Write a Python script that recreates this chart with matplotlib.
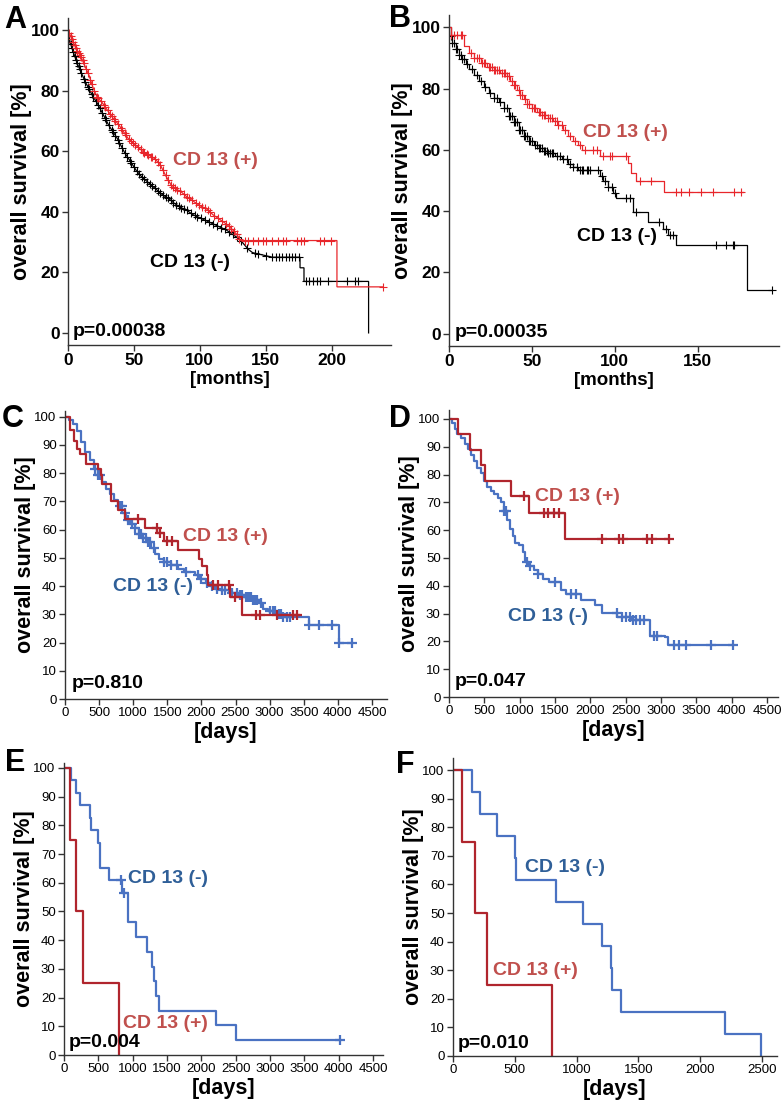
import matplotlib
matplotlib.use("Agg")
import matplotlib.pyplot as plt
import numpy as np

plt.rcParams["font.family"] = ["Liberation Sans", "DejaVu Sans"]

# ---------------- panel A (months), curves drawn as polylines, many events
a_pos_t = [0, 2, 4, 6, 8, 10, 13, 16, 19, 22, 26, 30, 34, 38, 42, 46, 50, 54, 58, 62, 66, 70, 74, 78, 82, 86, 90, 95,
           100, 105, 110, 115, 120, 125, 128, 131, 204, 204, 239]
a_pos_s = [100, 98, 96, 94, 92.5, 91, 88, 85, 81, 78, 76, 73.5, 71, 69, 66.5, 64, 62.5, 61, 59.5, 58.5, 57.5, 55.5, 52,
           49, 47.5, 46.5, 45, 43.5, 42, 41, 39, 37.5, 36, 34, 32.5, 30.5, 30.5, 15.2, 15.2]
a_pos_cens = [1, 2, 3, 4, 5, 6, 7, 8, 9, 10, 11, 12, 14, 15, 17, 18, 20, 22, 23, 25, 27, 28, 30, 32, 33, 35, 36, 38, 40,
              41, 43, 44, 46, 48, 49, 51, 53, 55, 57, 58, 60, 61, 63, 64, 66, 68, 70, 72, 74, 76, 78, 80, 81, 83, 85, 88,
              90, 92, 94, 97, 99, 102, 104, 106, 108, 111, 114, 117, 120, 122, 124, 126, 128, 130, 134, 136.5, 140, 144,
              148, 150, 155, 159, 163, 165.5, 174, 176.5, 179, 191.5, 194, 199.5, 239]
a_neg_t = [0, 1, 3, 5, 7, 9, 11, 13, 16, 19, 22, 25, 28, 31, 34, 37, 40, 43, 46, 49, 52, 56, 60, 64, 68, 72, 76, 80, 85,
           90, 95, 100, 105, 110, 115, 120, 125, 130, 134, 137, 140, 145, 150, 155, 176, 176, 179, 179, 228, 228]
a_neg_s = [100, 97, 94, 91.5, 89, 87, 85, 83, 80.5, 78, 76, 73.5, 71, 68.5, 66.5, 64.5, 62, 59.5, 57.5, 55.5, 53.5, 51.5,
           50, 48.5, 47, 45.5, 44.5, 43, 41.5, 40.5, 39, 38, 37, 36, 35, 34, 32.5, 31, 29, 27.5, 26.5, 26, 25.5, 25, 25,
           21.5, 21.5, 17, 17, 0]
a_neg_cens = [1, 2, 3, 4, 5, 6, 7, 8, 9, 10, 12, 13, 15, 16, 18, 19, 21, 23, 24, 26, 28, 29, 31, 33, 34, 36, 38, 39, 41,
              43, 45, 47, 48, 50, 52, 54, 56, 58, 60, 62, 64, 66, 68, 70, 72, 74, 76, 78, 80, 82, 84, 86, 88, 90, 93, 96,
              98, 101, 104, 107, 110, 113, 116, 119, 122, 125, 128, 131, 136, 141.5, 144, 150, 155, 157.5, 160, 162.5,
              165, 167.5, 170, 172, 175, 180.5, 183, 186, 188.5, 191, 197, 212, 217.7, 220]

# ---------------- panel B (months), step curves
b_pos_t = [0, 1, 9, 12, 15, 19, 23, 27, 31, 35, 37, 39, 41, 43, 45, 47, 50, 53, 56, 60, 63, 66, 69, 72, 75, 78, 80, 91,
           108, 110, 113, 129.5, 177]
b_pos_s = [100, 97.4, 94, 91.5, 90, 88.5, 87, 86, 85, 84, 82.5, 81, 79.5, 78, 76.5, 75, 73.5, 72.5, 71.5, 70.5, 69.5,
           68, 66.5, 64.5, 63, 61.5, 59.8, 58.1, 55.7, 52.5, 50, 46.1, 46.1]
b_pos_cens = [1.5, 3, 5, 7, 8, 13, 15, 17, 18, 20, 21, 22, 24, 25, 26, 27, 28, 29, 30, 32, 33, 34, 35, 36, 38, 39, 40,
              42, 43, 44, 46, 47, 48, 50, 51, 52, 54, 55, 56, 57, 58, 60, 61, 62, 64, 65, 66, 68, 70, 73, 76, 79, 82,
              87, 89, 93, 97, 98, 107, 115, 122, 137, 140, 144.6, 152, 159, 172, 176]
b_neg_t = [0, 1, 2, 4, 6, 8, 10, 12, 15, 18, 21, 24, 27, 30, 33, 36, 39, 42, 45, 48, 51, 54, 57, 60, 64, 68, 72, 75, 78,
           91, 93, 96, 99, 101, 111, 120, 129, 132, 137, 180, 194.5]
b_neg_s = [100, 97, 95, 93, 91, 89.5, 88, 86.5, 84.5, 82.5, 80.5, 78.5, 77, 75.5, 73.5, 71, 69, 66.5, 64.5, 63, 61.5,
           60.5, 59.5, 59, 58, 57, 55.5, 54.5, 53.5, 51.5, 50, 48, 46, 44.4, 39.8, 36.6, 34.2, 32.2, 28.8, 14.3, 14.3]
b_neg_cens = [1, 2, 3, 4, 5, 6, 7, 8, 9, 11, 14, 17, 19, 22, 25, 27, 29, 31, 33, 35, 36, 37, 38, 39, 40, 41, 42, 43,
              44, 45, 46, 47, 48, 49, 50, 52, 53, 54, 55, 56, 57, 58, 59, 60, 61, 62, 63, 65, 67, 69, 71, 73, 75, 77,
              79, 80, 81, 83, 84, 85, 90, 92, 94, 96, 98, 100, 107, 109, 112.7, 126.5, 131, 133, 135, 161, 167, 171,
              172, 194.5]

# ---------------- panel C (days)
c_pos_t = [0, 73, 132, 181, 220, 308, 479, 523, 538, 680, 783, 880, 1174, 1345, 1453, 1663, 1971, 2005, 2079, 2103,
           2421, 2593, 3430]
c_pos_s = [100, 95.1, 91.5, 88.4, 86.6, 83.3, 81.3, 79.5, 76, 70.2, 67.1, 63.9, 60.6, 58.8, 55.9, 52.9, 49.6, 47, 44,
           40.5, 36.3, 29.8, 29.8]
c_pos_cens = [1065, 1344, 1393, 1490, 1564, 2170, 2250, 2404, 2492, 2800, 2858, 3103, 3347, 3400]
c_neg_t = [0, 60, 120, 180, 240, 300, 360, 420, 480, 540, 600, 660, 720, 780, 840, 900, 960, 1020, 1080, 1140, 1200,
           1260, 1320, 1380, 1450, 1550, 1650, 1750, 1900, 1980, 2060, 2120, 2200, 2300, 2400, 2550, 2650, 2750, 2850,
           2900, 2980, 3100, 3200, 3571, 4012, 4207]
c_neg_s = [100, 98.8, 97.4, 94.8, 91, 87.5, 84.5, 81.5, 79.5, 77, 74.5, 72.5, 70.5, 68.5, 66, 63.5, 62, 60.5, 58.5, 57,
           55.5, 53.5, 51.5, 49.5, 48.5, 47.5, 46, 45, 44, 42.5, 41, 40, 39, 38.5, 37.5, 37, 36, 35, 34, 31.8, 31, 30,
           29.2, 26.3, 20, 20]
c_neg_cens = [440, 480, 520, 800, 830, 880, 920, 980, 1030, 1080, 1110, 1150, 1180, 1220, 1250, 1300, 1450, 1500, 1560,
              1640, 1780, 1950, 2000, 2080, 2150, 2230, 2300, 2350, 2450, 2520, 2560, 2600, 2650, 2680, 2700, 2730,
              2760, 2790, 2820, 2870, 3000, 3050, 3080, 3130, 3170, 3200, 3260, 3300, 3580, 3720, 3910, 4020, 4200]

# ---------------- panel D (days)
d_pos_t = [0, 128, 293, 458, 506, 874, 1134, 1640, 3113]
d_pos_s = [100, 94.4, 88.9, 83.3, 77.8, 72.2, 66.3, 56.7, 56.7]
d_pos_cens = [1066, 1345, 1400, 1480, 1556, 2160, 2404, 2462, 2797, 2877, 3113]
d_neg_t = [0, 40, 80, 120, 170, 220, 270, 310, 350, 400, 450, 490, 540, 590, 640, 690, 740, 780, 820, 860, 900, 940,
           990, 1040, 1080, 1130, 1200, 1260, 1330, 1420, 1580, 1650, 1870, 2070, 2160, 2380, 2570, 2844, 3056, 3099,
           4023]
d_neg_s = [100, 98.5, 96.5, 94.5, 93, 91, 89, 87, 85, 82.5, 80.5, 77.5, 75.5, 74, 73, 71.5, 70, 67, 63.5, 60.5, 58,
           55.5, 54.5, 52, 48.5, 47, 45.5, 44.2, 42.5, 41.2, 38.5, 36.9, 34.9, 33.1, 30.1, 28.9, 27.7, 22, 21.5, 18.6,
           18.6]
d_neg_cens = [780, 800, 1100, 1150, 1260, 1500, 1720, 1790, 2370, 2450, 2500, 2560, 2600, 2650, 2700, 2760, 2900, 2950,
              3180, 3260, 3350, 3700, 4023]

# ---------------- panel E (days)
e_pos_t = [0, 83, 180, 277, 801]
e_pos_s = [100, 75, 50, 25, 0]
e_neg_t = [0, 97, 170, 228, 374, 398, 495, 519, 655, 840, 932, 1053, 1214, 1282, 1306, 1335, 1383, 2218, 2510, 4014]
e_neg_s = [100, 95.7, 91.3, 87, 82.6, 78.3, 73.9, 65.2, 60.9, 56.5, 46.2, 41.1, 35.9, 30.8, 25.7, 20.5, 15.4, 10.3,
           5.1, 5.1]
e_neg_cens = [825, 869, 4014]

# ---------------- panel F (days)
f_pos_t = [0, 75, 178, 275, 801]
f_pos_s = [100, 75, 50, 25, 0]
f_neg_t = [0, 156, 221, 356, 504, 512, 831, 1052, 1203, 1276, 1286, 1362, 2198, 2495]
f_neg_s = [100, 92.3, 84.6, 76.9, 69.2, 61.5, 53.8, 46.2, 38.5, 30.8, 23.1, 15.4, 7.7, 0]

RED_AB = "#e8262b"
RED = "#b0252d"
BLUE = "#4a72c2"
RED_TXT = "#c0504d"
BLUE_TXT = "#2f5f98"
SPINE = "#333333"
LAB_FS = 14  # curve labels and p-values


def km(ax, t, s, cens, color, lw, ms, mew, linear=False):
    t = np.asarray(t, float)
    s = np.asarray(s, float)
    if linear:
        ax.plot(t, s, color=color, lw=lw, solid_joinstyle="miter")
        cy = np.interp(cens, t, s)
    else:
        ax.step(t, s, where="post", color=color, lw=lw)
        cy = s[np.searchsorted(t, cens, side="right") - 1] if len(cens) else []
    if len(cens):
        ax.plot(cens, cy, ls="none", marker="+", color=color, ms=ms, mew=mew)


def style(ax, xticks, yticks, xlim, ylim, fs, weight, xlabel, xlfs):
    ax.set_xlim(*xlim)
    ax.set_ylim(*ylim)
    for side in ("top", "right"):
        ax.spines[side].set_visible(False)
    for side in ("left", "bottom"):
        ax.spines[side].set_color(SPINE)
        ax.spines[side].set_linewidth(1.0)
    ax.set_xticks(xticks)
    ax.set_yticks(yticks)
    ax.tick_params(length=4, width=1, color=SPINE, pad=2)
    for lab in ax.get_xticklabels() + ax.get_yticklabels():
        lab.set_fontsize(fs)
        lab.set_fontweight(weight)
    ax.set_xlabel(xlabel, fontsize=xlfs, fontweight="bold", labelpad=2)
    ax.set_ylabel("overall survival [%]", fontsize=15.5, fontweight="bold", labelpad=-1)


fig = plt.figure(figsize=(7.83, 11.08), dpi=100)

W, H = 783.0, 1108.0


def add_axes(l, r, top, bot):
    return fig.add_axes([l / W, 1 - bot / H, (r - l) / W, (bot - top) / H])


# A
ax = add_axes(68, 391, 18, 345)
km(ax, a_neg_t, a_neg_s, a_neg_cens, "black", 0.9, 6, 0.8, linear=True)
km(ax, a_pos_t, a_pos_s, a_pos_cens, RED_AB, 0.9, 6, 0.8, linear=True)
style(ax, [0, 50, 100, 150, 200], range(0, 101, 20), (0, 245), (-4, 104), 12.5, "bold", "[months]", 13.5)
ax.text(79.5, 57, "CD 13 (+)", color=RED_TXT, fontsize=LAB_FS, fontweight="bold", va="center")
ax.text(62, 23.4, "CD 13 (-)", color="black", fontsize=LAB_FS, fontweight="bold", va="center")
ax.text(3.5, 0.5, "p=0.00038", color="black", fontsize=LAB_FS, fontweight="bold", va="center")

# B
ax = add_axes(449, 779, 15, 346)
km(ax, b_neg_t, b_neg_s, b_neg_cens, "black", 0.9, 6, 0.8)
km(ax, b_pos_t, b_pos_s, b_pos_cens, RED_AB, 0.9, 6, 0.8)
style(ax, [0, 50, 100, 150], range(0, 101, 20), (0, 199), (-4, 104), 12.5, "bold", "[months]", 13.5)
ax.text(80.7, 65.5, "CD 13 (+)", color=RED_TXT, fontsize=LAB_FS, fontweight="bold", va="center")
ax.text(77, 31.6, "CD 13 (-)", color="black", fontsize=LAB_FS, fontweight="bold", va="center")
ax.text(3.6, 0.5, "p=0.00035", color="black", fontsize=LAB_FS, fontweight="bold", va="center")

days_ticks = range(0, 4501, 500)

# C
ax = add_axes(65, 387, 411, 699)
km(ax, c_neg_t, c_neg_s, c_neg_cens, BLUE, 1.6, 6.5, 1.6)
km(ax, c_pos_t, c_pos_s, c_pos_cens, RED, 1.6, 6.5, 1.6)
style(ax, days_ticks, range(0, 101, 10), (0, 4720), (0, 102), 9.5, "normal", "[days]", 15.5)
ax.text(1730, 57.4, "CD 13 (+)", color=RED_TXT, fontsize=LAB_FS, fontweight="bold", va="center")
ax.text(704, 39.7, "CD 13 (-)", color=BLUE_TXT, fontsize=LAB_FS, fontweight="bold", va="center")
ax.text(100, 5.5, "p=0.810", color="black", fontsize=LAB_FS, fontweight="bold", va="center")

# D
ax = add_axes(449, 778, 410, 697)
km(ax, d_neg_t, d_neg_s, d_neg_cens, BLUE, 1.6, 6.5, 1.6)
km(ax, d_pos_t, d_pos_s, d_pos_cens, RED, 1.6, 6.5, 1.6)
style(ax, days_ticks, range(0, 101, 10), (0, 4655), (0, 103.2), 9.5, "normal", "[days]", 15.5)
ax.text(1217, 72, "CD 13 (+)", color=RED_TXT, fontsize=LAB_FS, fontweight="bold", va="center")
ax.text(835, 29.1, "CD 13 (-)", color=BLUE_TXT, fontsize=LAB_FS, fontweight="bold", va="center")
ax.text(85, 5.4, "p=0.047", color="black", fontsize=LAB_FS, fontweight="bold", va="center")

# E
ax = add_axes(64, 383, 763, 1055)
km(ax, e_neg_t, e_neg_s, e_neg_cens, BLUE, 1.6, 6.5, 1.6)
km(ax, e_pos_t, e_pos_s, [], RED, 1.6, 6.5, 1.6)
style(ax, days_ticks, range(0, 101, 10), (0, 4645), (0, 101.7), 9.5, "normal", "[days]", 15.5)
ax.text(932, 61.3, "CD 13 (-)", color=BLUE_TXT, fontsize=LAB_FS, fontweight="bold", va="center")
ax.text(859, 11.1, "CD 13 (+)", color=RED_TXT, fontsize=LAB_FS, fontweight="bold", va="center")
ax.text(73, 4.2, "p=0.004", color="black", fontsize=LAB_FS, fontweight="bold", va="center")

# F
ax = add_axes(453, 777, 758, 1056)
km(ax, f_neg_t, f_neg_s, [], BLUE, 1.6, 6.5, 1.6)
km(ax, f_pos_t, f_pos_s, [], RED, 1.6, 6.5, 1.6)
style(ax, range(0, 2501, 500), range(0, 101, 10), (0, 2621), (0, 104.2), 9.5, "normal", "[days]", 15.5)
ax.text(582, 66, "CD 13 (-)", color=BLUE_TXT, fontsize=LAB_FS, fontweight="bold", va="center")
ax.text(324, 30, "CD 13 (+)", color=RED_TXT, fontsize=LAB_FS, fontweight="bold", va="center")
ax.text(40, 4.5, "p=0.010", color="black", fontsize=LAB_FS, fontweight="bold", va="center")

# panel letters
for letter, px, py in [("A", 4, 5), ("B", 389, 4), ("C", 2, 404), ("D", 389, 404), ("E", 5, 748), ("F", 396, 750)]:
    fig.text(px / W, 1 - py / H, letter, fontsize=22, fontweight="bold", va="top", ha="left")

fig.savefig("out.png", dpi=100)
